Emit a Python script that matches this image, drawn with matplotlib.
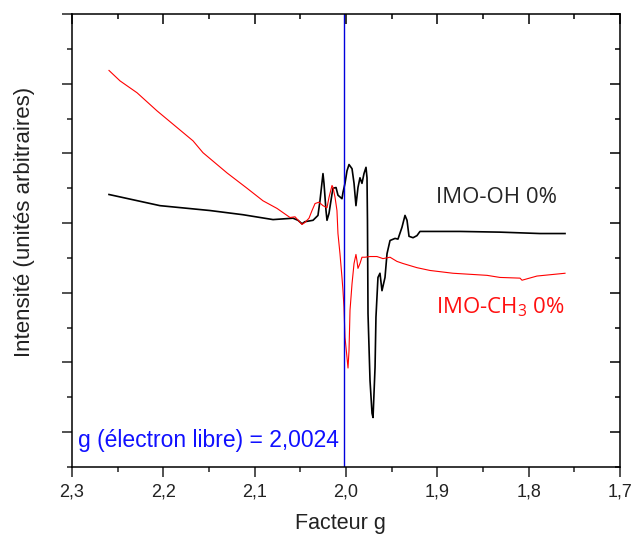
import numpy as np
import matplotlib
matplotlib.use("Agg")
import matplotlib.pyplot as plt
from matplotlib.ticker import MultipleLocator


# EPR spectra (g factor, intensity in arbitrary units)
g_oh = [2.2595, 2.2037, 2.1489, 2.1128, 2.0799, 2.0580, 2.0526, 2.0482, 2.0449,
        2.0361, 2.0307, 2.0285, 2.0252, 2.0241, 2.0219, 2.0208, 2.0186, 2.0153,
        2.0142, 2.0109, 2.0088, 2.0044, 2.0033, 2.0011, 1.9989, 1.9967, 1.9934,
        1.9912, 1.9891, 1.9869, 1.9847, 1.9825, 1.9803, 1.9781, 1.9770, 1.9765,
        1.9759, 1.9737, 1.9715, 1.9704, 1.9682, 1.9672, 1.9650, 1.9628, 1.9606,
        1.9573, 1.9551, 1.9518, 1.9463, 1.9431, 1.9387, 1.9354, 1.9332, 1.9310,
        1.9266, 1.9223, 1.9190, 1.9080, 1.8752, 1.8314, 1.7876, 1.7602]
int_oh = [3.41, 3.25, 3.18, 3.12, 3.05, 3.07, 3.04, 2.99, 3.02,
          3.04, 3.11, 3.32, 3.71, 3.57, 3.18, 3.04, 3.14, 3.42,
          3.50, 3.51, 3.40, 3.35, 3.44, 3.57, 3.75, 3.84, 3.78,
          3.57, 3.25, 3.51, 3.65, 3.57, 3.71, 3.80, 3.65, 3.04,
          1.70, 0.74, 0.27, 0.21, 0.93, 1.65, 2.22, 2.28, 2.03,
          2.22, 2.56, 2.75, 2.78, 2.77, 2.94, 3.11, 3.04, 2.81,
          2.79, 2.82, 2.88, 2.88, 2.88, 2.87, 2.85, 2.85]

g_ch3 = [2.2595, 2.2474, 2.2288, 2.2069, 2.1675, 2.1566, 2.1303, 2.1084, 2.0909,
         2.0755, 2.0613, 2.0558, 2.0482, 2.0449, 2.0405, 2.0372, 2.0339, 2.0296,
         2.0252, 2.0208, 2.0186, 2.0153, 2.0142, 2.0120, 2.0099, 2.0088, 2.0066,
         2.0044, 2.0033, 2.0022, 2.0011, 1.9989, 1.9978, 1.9967, 1.9956, 1.9934,
         1.9912, 1.9891, 1.9880, 1.9869, 1.9847, 1.9825, 1.9792, 1.9737, 1.9661,
         1.9595, 1.9518, 1.9442, 1.9376, 1.9223, 1.9080, 1.8828, 1.8456, 1.8314,
         1.8095, 1.8073, 1.7909, 1.7602]
int_ch3 = [5.19, 5.04, 4.87, 4.61, 4.18, 4.01, 3.72, 3.50, 3.32,
           3.21, 3.08, 3.09, 2.98, 3.01, 3.07, 3.18, 3.28, 3.30,
           3.25, 3.22, 3.37, 3.54, 3.51, 3.37, 3.18, 2.85, 2.56,
           2.22, 2.03, 1.79, 1.36, 1.07, 0.92, 1.17, 1.75, 2.13,
           2.42, 2.55, 2.46, 2.35, 2.42, 2.51, 2.51, 2.52, 2.52,
           2.49, 2.51, 2.45, 2.42, 2.36, 2.32, 2.28, 2.25, 2.22,
           2.21, 2.18, 2.24, 2.28]

g_free_electron = 2.0024

x_ticks = [2.3, 2.2, 2.1, 2.0, 1.9, 1.8, 1.7]
x_tick_labels = ["2,3", "2,2", "2,1", "2,0", "1,9", "1,8", "1,7"]

label_oh = "IMO-OH 0%"
label_ch3 = "IMO-CH$_3$ 0%"
label_free = "g (électron libre) = 2,0024"


def px(x, y, w=632, h=537):
    """Convert pixel position (from top-left) to figure fraction."""
    return x / w, 1 - y / h


def plot_spectra():
    """
    Draw both EPR spectra with the free electron g marker.
    """
    plt.rcParams["font.family"] = ["Liberation Sans", "DejaVu Sans"]
    plt.rcParams["mathtext.fontset"] = "custom"
    plt.rcParams["mathtext.rm"] = "Open Sans"

    fig = plt.figure(figsize=(6.32, 5.37), dpi=100)
    rect = [72 / 632, 1 - 467 / 537, 548 / 632, 453 / 537]
    ax = fig.add_axes(rect)

    ax.plot(g_oh, int_oh, color="black", lw=1.2)
    ax.plot(g_ch3, int_ch3, color="#ff0000", lw=0.8)
    ax.axvline(g_free_electron, color="#0000dd", lw=1.0)

    ax.set_xlim(2.3, 1.7)
    ax.set_ylim(-0.5, 6.0)
    ax.set_xticks(x_ticks)
    ax.set_xticklabels(x_tick_labels)
    ax.xaxis.set_minor_locator(MultipleLocator(0.05))
    ax.yaxis.set_major_locator(MultipleLocator(1.0))
    ax.yaxis.set_minor_locator(MultipleLocator(0.5))
    ax.tick_params(which="both", direction="out", width=1.1, top=False, right=False,
                   labelleft=False, labelsize=13, colors="#222222", pad=5)
    ax.tick_params(which="major", length=7)
    ax.tick_params(which="minor", length=3.5)
    for s in ax.spines.values():
        s.set_linewidth(1.1)

    # top / right ticks point inward, so draw them on an overlay
    ax2 = fig.add_axes(rect, facecolor="none")
    ax2.set_xlim(ax.get_xlim())
    ax2.set_ylim(ax.get_ylim())
    ax2.xaxis.set_major_locator(MultipleLocator(0.1))
    ax2.xaxis.set_minor_locator(MultipleLocator(0.05))
    ax2.yaxis.set_major_locator(MultipleLocator(1.0))
    ax2.yaxis.set_minor_locator(MultipleLocator(0.5))
    ax2.tick_params(which="both", direction="in", width=1.1, top=True, right=True,
                    bottom=False, left=False, labelbottom=False, labelleft=False)
    ax2.tick_params(which="major", length=7)
    ax2.tick_params(which="minor", length=3.5)
    for s in ax2.spines.values():
        s.set_visible(False)

    fig.text(*px(340, 523), "Facteur g", fontsize=15.5, ha="center", va="center",
             color="#222222")
    fig.text(*px(25, 222), "Intensité (unités arbitraires)", fontsize=16,
             rotation=90, ha="center", va="center", color="#222222")

    fig.text(*px(78, 440), label_free, fontsize=16.5, color="#1010ff",
             ha="left", va="center")
    fig.text(*px(436, 198), label_oh, fontsize=16, color="#262626",
             family="Open Sans", ha="left", va="center")
    fig.text(*px(436, 307), label_ch3, fontsize=16, color="#ff1010",
             family="Open Sans", ha="left", va="center")

    fig.savefig("out.png", dpi=100)


if __name__ == "__main__":
    plot_spectra()
